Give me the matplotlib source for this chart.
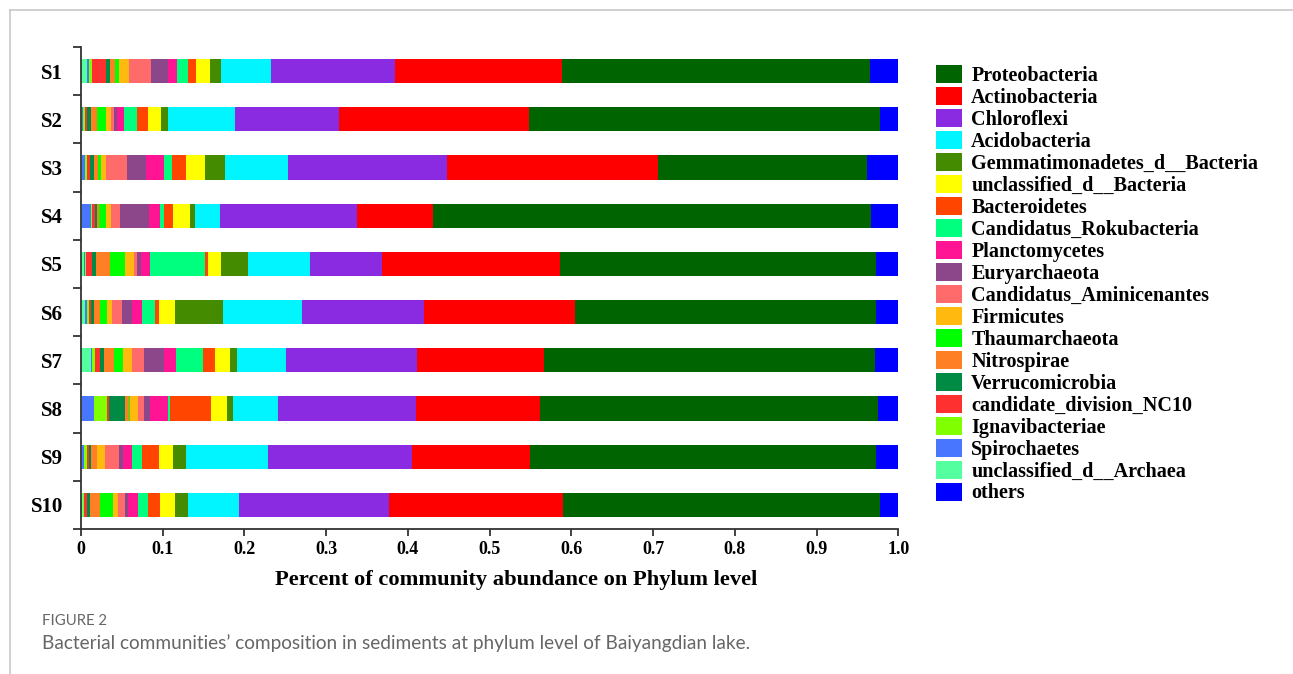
import numpy as np
import matplotlib
matplotlib.use("Agg")
import matplotlib.pyplot as plt
from matplotlib.lines import Line2D

# samples, top to bottom
samples = ["S1", "S2", "S3", "S4", "S5", "S6", "S7", "S8", "S9", "S10"]

# phyla in stacking order (left -> right)
phyla = ["unclassified_d__Archaea", "Spirochaetes", "Ignavibacteriae",
         "candidate_division_NC10", "Verrucomicrobia", "Nitrospirae",
         "Thaumarchaeota", "Firmicutes", "Candidatus_Aminicenantes",
         "Euryarchaeota", "Planctomycetes", "Candidatus_Rokubacteria",
         "Bacteroidetes", "unclassified_d__Bacteria", "Gemmatimonadetes_d__Bacteria",
         "Acidobacteria", "Chloroflexi", "Actinobacteria", "Proteobacteria", "others"]

colors = ["#54ff9f", "#4876ff", "#7fff00", "#ff3030", "#008b45", "#ff7f24",
          "#00ff00", "#ffb90f", "#ff6a6a", "#8b4789", "#ff1493", "#00ff7f",
          "#ff4500", "#ffff00", "#458b00", "#00f5ff", "#8a2be2", "#ff0000",
          "#006400", "#0000ff"]

# relative abundance per sample, same order as phyla
S1 = [0.007, 0.003, 0.004, 0.017, 0.004, 0.006, 0.006, 0.012, 0.027, 0.021,
      0.011, 0.013, 0.010, 0.017, 0.013, 0.061, 0.152, 0.204, 0.377, 0.035]
S2 = [0.001, 0.001, 0.003, 0.002, 0.005, 0.007, 0.012, 0.006, 0.003, 0.004,
      0.009, 0.016, 0.013, 0.016, 0.009, 0.082, 0.127, 0.232, 0.430, 0.022]
S3 = [0.001, 0.004, 0.002, 0.004, 0.005, 0.005, 0.003, 0.007, 0.025, 0.024,
      0.022, 0.009, 0.018, 0.023, 0.024, 0.077, 0.195, 0.258, 0.256, 0.038]
S4 = [0.001, 0.011, 0.002, 0.003, 0.002, 0.003, 0.009, 0.006, 0.011, 0.035,
      0.014, 0.004, 0.012, 0.020, 0.007, 0.030, 0.168, 0.093, 0.535, 0.034]
S5 = [0.004, 0.001, 0.001, 0.008, 0.004, 0.017, 0.019, 0.011, 0.003, 0.005,
      0.011, 0.068, 0.003, 0.016, 0.033, 0.076, 0.088, 0.218, 0.387, 0.027]
S6 = [0.005, 0.002, 0.003, 0.002, 0.004, 0.007, 0.009, 0.006, 0.012, 0.013,
      0.012, 0.015, 0.006, 0.019, 0.059, 0.096, 0.150, 0.184, 0.369, 0.027]
S7 = [0.012, 0.002, 0.003, 0.006, 0.005, 0.012, 0.011, 0.011, 0.015, 0.025,
      0.014, 0.033, 0.015, 0.018, 0.009, 0.060, 0.160, 0.156, 0.404, 0.029]
S8 = [0.001, 0.015, 0.016, 0.002, 0.020, 0.005, 0.001, 0.010, 0.007, 0.008,
      0.021, 0.003, 0.050, 0.020, 0.007, 0.055, 0.169, 0.151, 0.414, 0.025]
S9 = [0.001, 0.003, 0.003, 0.003, 0.002, 0.007, 0.001, 0.009, 0.018, 0.004,
      0.012, 0.012, 0.020, 0.017, 0.016, 0.101, 0.176, 0.144, 0.424, 0.027]
S10 = [0.002, 0.001, 0.001, 0.003, 0.004, 0.012, 0.016, 0.006, 0.009, 0.004,
       0.012, 0.012, 0.015, 0.018, 0.016, 0.062, 0.184, 0.213, 0.388, 0.022]

xticks = [0, 0.1, 0.2, 0.3, 0.4, 0.5, 0.6, 0.7, 0.8, 0.9, 1.0]
xticklabels = ["0", "0.1", "0.2", "0.3", "0.4", "0.5", "0.6", "0.7", "0.8", "0.9", "1.0"]

serif = "Liberation Serif"

data = np.array([S1, S2, S3, S4, S5, S6, S7, S8, S9, S10])

fig = plt.figure(figsize=(12.93, 6.74), dpi=100)
ax = fig.add_axes([81 / 1293, 1 - 529 / 674, (898.3 - 81) / 1293, (529 - 47) / 674])

ypos = np.arange(len(samples))
left = np.zeros(len(samples))
for j, name in enumerate(phyla):
    ax.barh(ypos, data[:, j], left=left, height=0.5, color=colors[j],
            linewidth=0, label=name)
    left += data[:, j]

ax.set_xlim(0, 1.0)
ax.set_ylim(len(samples) - 0.5, -0.5)

for s in ["top", "right"]:
    ax.spines[s].set_visible(False)
for s in ["left", "bottom"]:
    ax.spines[s].set_linewidth(1.3)
    ax.spines[s].set_color("#333333")

ax.set_xticks(xticks)
ax.set_xticklabels(xticklabels, fontfamily=serif, fontweight="bold", fontsize=13)
ax.tick_params(axis="x", direction="out", length=5, width=1.3, pad=4, color="#333333")

# boundary ticks on y, labels centred on bars
ax.set_yticks(np.arange(-0.5, len(samples), 1.0))
ax.set_yticklabels([])
ax.set_yticks(ypos, minor=True)
ax.set_yticklabels(samples, minor=True, fontfamily=serif, fontweight="bold", fontsize=15)
ax.tick_params(axis="y", which="major", direction="out", length=6, width=1.3, color="#333333")
ax.tick_params(axis="y", which="minor", length=0, pad=13)

ax.set_xlabel("Percent of community abundance on Phylum level",
              fontfamily=serif, fontweight="bold", fontsize=16.2)
ax.xaxis.set_label_coords(0.533, -0.085)

# legend in reverse stacking order, others last
handles, labels = ax.get_legend_handles_labels()
order = list(range(len(phyla) - 2, -1, -1)) + [len(phyla) - 1]
leg = fig.legend([handles[i] for i in order], [labels[i] for i in order],
                 loc="upper left", bbox_to_anchor=(936 / 1293, 1 - 65 / 674),
                 frameon=False, prop={"family": serif, "weight": "bold", "size": 14.5},
                 handlelength=1.3, handleheight=1.0, handletextpad=0.45,
                 labelspacing=0.053, borderpad=0, borderaxespad=0)

# caption
fig.text(42 / 1293, 1 - 621 / 674, "FIGURE 2", fontfamily="Lato", fontsize=10.7,
         color="#666666", va="center")
fig.text(42 / 1293, 1 - 643 / 674,
         "Bacterial communities\u2019 composition in sediments at phylum level of Baiyangdian lake.",
         fontfamily="Lato", fontsize=13.7, color="#666666", va="center")

# card border
fig.add_artist(Line2D([10 / 1293, 10 / 1293], [0, 1 - 10 / 674], transform=fig.transFigure,
                      color="#c8c8c8", linewidth=1.2))
fig.add_artist(Line2D([10 / 1293, 1], [1 - 10 / 674, 1 - 10 / 674], transform=fig.transFigure,
                      color="#c8c8c8", linewidth=1.2))

fig.savefig("out.png", dpi=100)
